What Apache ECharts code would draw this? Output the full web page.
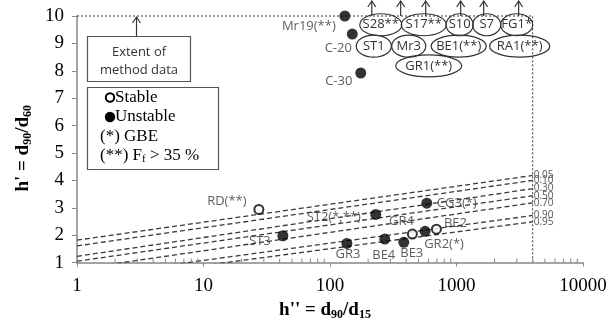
<!DOCTYPE html>
<html>
<head>
<meta charset="utf-8">
<script src="https://cdn.jsdelivr.net/npm/echarts@6/dist/echarts.min.js"></script>
<style>
  html, body { margin: 0; padding: 0; background: #fff; }
  #chart { width: 615px; height: 326px; }
</style>
</head>
<body>
<div id="chart"></div>
<script>
// Samples with h' up to 10: h'' = d90/d15 (x) and h' = d90/d60 (y)
const stableNames = ['RD(**)', 'GR4', 'BE2'];
const stableH2 = [27.4, 448, 694];
const stableH1 = [2.94, 2.04, 2.22];

const unstableNames = ['Mr19(**)', 'C-20', 'C-30', 'ST3', 'ST2(*,**)', 'CG3(*)', 'GR3', 'BE4', 'BE3', 'GR2(*)'];
const unstableH2 = [131, 150, 175, 42.4, 230, 582, 136, 271, 383, 564];
const unstableH1 = [10.0, 9.34, 7.92, 1.98, 2.76, 3.17, 1.70, 1.86, 1.74, 2.14];

// Samples with h' above 10: arrows at their h'' and ringed labels
const arrowH2 = [214, 362, 571, 1079, 1640, 3100];
const offNames = ['S28**', 'S17**', 'S10', 'S7', 'FG1*', 'ST1', 'Mr3', 'BE1(**)', 'RA1(**)', 'GR1(**)'];
const offH2 = [252, 551, 1059, 1733, 2990, 222, 419, 1041, 3157, 603];

// Probability lines: h' at h'' = 1 and at h'' = 4000
const probLabels = ['0.05', '0.10', '0.30', '0.50', '0.70', '0.90', '0.95'];
const probStart = [1.82, 1.61, 1.23, 1.05, 0.76, 0.45, 0.28];
const probEnd = [4.18, 4.00, 3.70, 3.44, 3.18, 2.72, 2.49];

// Extent of the method data
const limitH2 = 4000;
const limitH1 = 10;

// Axis ranges
const xMin = 1, xMax = 10000;
const yMin = 1, yMax = 10, yStep = 1;

// ---- label placement (pixels, relative to the marker centre) ----
const labelOffsets = {
  'RD(**)': [-32, -8], 'GR4': [-11, -13], 'BE2': [19, -6],
  'Mr19(**)': [-36, 10], 'C-20': [-14, 14], 'C-30': [-22, 8],
  'ST3': [-23, 6], 'ST2(*,**)': [-42, 3], 'CG3(*)': [30, 0],
  'GR3': [1, 11], 'BE4': [-1, 16], 'BE3': [8, 11], 'GR2(*)': [19, 13]
};
// ring rows above the chart top and ring widths
const ringRowH1 = [9.68, 8.90, 8.18];
const ringLayout = {
  'S28**': [0, 42], 'S17**': [0, 45], 'S10': [0, 27], 'S7': [0, 28], 'FG1*': [0, 32],
  'ST1': [1, 35], 'Mr3': [1, 34], 'BE1(**)': [1, 55], 'RA1(**)': [1, 60], 'GR1(**)': [2, 66]
};

const SANS = '"Open Sans", sans-serif';
const SERIF = '"Liberation Serif", "Times New Roman", serif';
const TXT = '#333';
const AXIS = '#868686';

// minor tick positions of the log axis (2..9 in every decade)
const minorTicks = [];
for (let d = xMin; d < xMax; d *= 10) {
  for (let m = 2; m <= 9; m++) minorTicks.push(d * m);
}

function pointLabel(name) {
  const off = labelOffsets[name] || [0, 0];
  return {
    show: true, position: 'inside', offset: off, formatter: name,
    fontFamily: SANS, fontSize: 13, color: TXT
  };
}

const series = [];

// probability lines
probLabels.forEach((lab, i) => {
  series.push({
    type: 'line', silent: true, symbol: 'none', z: 2,
    data: [[xMin, probStart[i]], [limitH2, probEnd[i]]],
    lineStyle: { color: '#3a3a3a', width: 1.3, type: [5, 3] },
    endLabel: { show: true, formatter: lab, distance: 1, fontFamily: SANS, fontSize: 10, color: '#555' }
  });
});

// dotted limits of the method data
series.push({
  type: 'line', silent: true, symbol: 'none', z: 2, clip: false,
  data: [[xMin, limitH1], [limitH2, limitH1], [limitH2, yMin]],
  lineStyle: { color: '#333', width: 1, type: [2, 2] }
});

// minor ticks on the x axis
series.push({
  type: 'custom', silent: true, clip: false, z: 3,
  data: minorTicks.map(v => [v, yMin]),
  renderItem: (params, api) => {
    const p = api.coord([api.value(0), api.value(1)]);
    return { type: 'line', shape: { x1: p[0], y1: p[1], x2: p[0], y2: p[1] - 4 },
             style: { stroke: AXIS, lineWidth: 1 } };
  }
});

// stable samples (open circles)
series.push({
  type: 'scatter', clip: false, z: 5, symbol: 'circle', symbolSize: 9,
  itemStyle: { color: '#fff', borderColor: '#000', borderWidth: 2 },
  data: stableNames.map((n, i) => ({ name: n, value: [stableH2[i], stableH1[i]], label: pointLabel(n) }))
});

// unstable samples (filled circles)
series.push({
  type: 'scatter', clip: false, z: 5, symbol: 'circle', symbolSize: 11,
  itemStyle: { color: '#000' },
  data: unstableNames.map((n, i) => ({ name: n, value: [unstableH2[i], unstableH1[i]], label: pointLabel(n) }))
});

// arrows for h' beyond 10
series.push({
  type: 'custom', silent: true, clip: false, z: 6,
  data: arrowH2.map(v => [v, limitH1]),
  renderItem: (params, api) => {
    const p = api.coord([api.value(0), api.value(1)]);
    const top = p[1] - 15;
    return { type: 'group', children: [
      { type: 'line', shape: { x1: p[0], y1: p[1], x2: p[0], y2: top }, style: { stroke: TXT, lineWidth: 1.2 } },
      { type: 'polyline', shape: { points: [[p[0] - 4, top + 6], [p[0], top], [p[0] + 4, top + 6]] },
        style: { stroke: TXT, lineWidth: 1.2, fill: null } }
    ] };
  }
});

// ringed labels of the samples beyond 10
series.push({
  type: 'custom', silent: true, clip: false, z: 6,
  data: offNames.map((n, i) => [offH2[i], ringRowH1[ringLayout[n][0]]]),
  renderItem: (params, api) => {
    const name = offNames[params.dataIndex];
    const p = api.coord([api.value(0), api.value(1)]);
    const w = ringLayout[name][1];
    return { type: 'group', children: [
      { type: 'ellipse', shape: { cx: p[0], cy: p[1], rx: w / 2, ry: 11 },
        style: { stroke: TXT, lineWidth: 1.2, fill: null } },
      { type: 'text', style: { text: name, x: p[0], y: p[1], align: 'center', verticalAlign: 'middle',
        fontFamily: SANS, fontSize: 13, fill: TXT } }
    ] };
  }
});

const titleRich = {
  b: { fontFamily: SERIF, fontWeight: 'bold', fontSize: 19, lineHeight: 22, color: '#000' },
  s: { fontFamily: SERIF, fontWeight: 'bold', fontSize: 12, lineHeight: 8, verticalAlign: 'bottom', color: '#000' }
};

const option = {
  animation: false,
  backgroundColor: '#fff',
  grid: { left: 77, right: 32, top: 16, bottom: 60 },
  xAxis: {
    type: 'log', logBase: 10, min: xMin, max: xMax,
    name: "{b|h'' = d}{s|90}{b|/d}{s|15}",
    nameLocation: 'middle', nameGap: 24,
    nameTextStyle: { rich: titleRich, padding: [0, 10, 0, 0] },
    axisLine: { lineStyle: { color: AXIS, width: 1.5 } },
    axisTick: { show: true, length: 4, lineStyle: { color: AXIS } },
    axisLabel: { fontFamily: SERIF, fontSize: 19, color: '#000', margin: 14, formatter: v => String(v) },
    splitLine: { show: false }
  },
  yAxis: {
    type: 'value', min: yMin, max: yMax, interval: yStep,
    name: "{b|h' = d}{s|90}{b|/d}{s|60}",
    nameLocation: 'middle', nameGap: 42,
    nameTextStyle: { rich: titleRich, padding: [0, 18, 0, 0] },
    axisLine: { show: true, lineStyle: { color: AXIS, width: 1.5 } },
    axisTick: { show: true, length: 5, lineStyle: { color: AXIS } },
    axisLabel: { fontFamily: SERIF, fontSize: 19, color: '#000', margin: 13 },
    splitLine: { show: false }
  },
  series: series,
  graphic: [
    // note box
    { type: 'rect', z: 10, shape: { x: 87.5, y: 36.5, width: 103, height: 45 },
      style: { fill: '#fff', stroke: '#555', lineWidth: 1.2 } },
    { type: 'text', z: 11, style: { text: 'Extent of', x: 139, y: 52, align: 'center', verticalAlign: 'middle',
      fontFamily: SANS, fontSize: 13, fill: '#333' } },
    { type: 'text', z: 11, style: { text: 'method data', x: 139, y: 70, align: 'center', verticalAlign: 'middle',
      fontFamily: SANS, fontSize: 13, fill: '#333' } },
    { type: 'line', z: 11, shape: { x1: 136.5, y1: 36, x2: 136.5, y2: 17 }, style: { stroke: TXT, lineWidth: 1.2 } },
    { type: 'polyline', z: 11, shape: { points: [[132.5, 23], [136.5, 17], [140.5, 23]] },
      style: { stroke: TXT, lineWidth: 1.2, fill: null } },
    // legend box
    { type: 'rect', z: 10, shape: { x: 87.5, y: 87.5, width: 131, height: 82 },
      style: { fill: '#fff', stroke: '#555', lineWidth: 1.2 } },
    { type: 'circle', z: 11, shape: { cx: 110, cy: 97.5, r: 4.2 }, style: { fill: '#fff', stroke: '#000', lineWidth: 2 } },
    { type: 'text', z: 11, style: { text: 'Stable', x: 115, y: 97.5, verticalAlign: 'middle',
      fontFamily: SERIF, fontSize: 17, fill: '#000' } },
    { type: 'circle', z: 11, shape: { cx: 110, cy: 117, r: 5.2 }, style: { fill: '#000' } },
    { type: 'text', z: 11, style: { text: 'Unstable', x: 115, y: 117, verticalAlign: 'middle',
      fontFamily: SERIF, fontSize: 17, fill: '#000' } },
    { type: 'text', z: 11, style: { text: '(*) GBE', x: 100, y: 137, verticalAlign: 'middle',
      fontFamily: SERIF, fontSize: 17, fill: '#000' } },
    { type: 'text', z: 11, style: { text: '(**) F{s|f} > 35 %', x: 100, y: 156, verticalAlign: 'middle',
      fontFamily: SERIF, fontSize: 17, fill: '#000',
      rich: { s: { fontFamily: SERIF, fontSize: 11, lineHeight: 6, verticalAlign: 'bottom', fill: '#000' } } } }
  ]
};

const chart = echarts.init(document.getElementById('chart'), null, { renderer: 'canvas' });
chart.setOption(option);
</script>
</body>
</html>
